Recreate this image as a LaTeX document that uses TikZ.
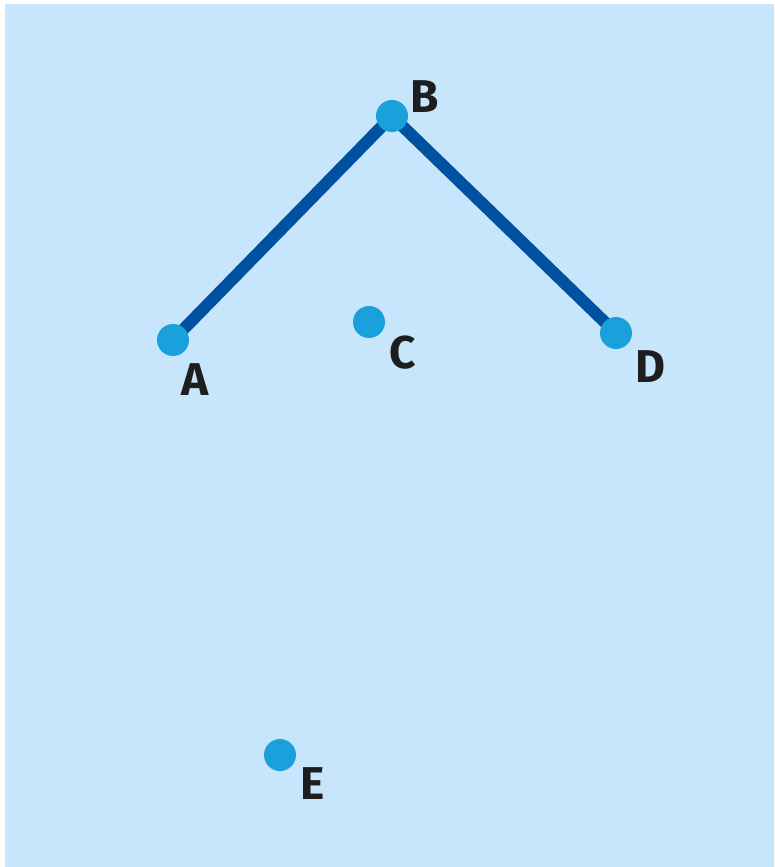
\documentclass[tikz,border=0pt]{standalone}
\usepackage{fontspec}
\setmainfont{Fira Sans}
\definecolor{bgblue}{HTML}{C8E6FB}
\definecolor{linkblue}{HTML}{0052A0}
\definecolor{dotblue}{HTML}{1AA0DA}
\definecolor{labelink}{HTML}{1E1E1E}
\tikzset{
  dot/.style={circle, fill=dotblue, draw=none, minimum size=32pt, inner sep=0pt},
  link/.style={draw=linkblue, line width=12pt},
  lbl/.style={text=labelink, font=\fontsize{46}{46}\selectfont\bfseries, inner sep=0pt, anchor=center}
}
\begin{document}
\begin{tikzpicture}[x=1pt,y=-1pt]
\useasboundingbox (0,0) rectangle (774,867);
\fill[white] (0,0) rectangle (774,867);
\fill[bgblue] (5,4) rectangle (774,867);
\coordinate (pA) at (173,340);
\coordinate (pB) at (392,116);
\coordinate (pC) at (369,322);
\coordinate (pD) at (616,333);
\coordinate (pE) at (280,755);
\draw[link] (pA) -- (pB) -- (pD);
\node[dot] (A) at (pA) {};
\node[dot] (B) at (pB) {};
\node[dot] (C) at (pC) {};
\node[dot] (D) at (pD) {};
\node[dot] (E) at (pE) {};
\node[lbl] (lA) at (195,380) {A};
\node[lbl] (lB) at (425,97) {B};
\node[lbl] (lC) at (403,353) {C};
\node[lbl] (lD) at (650,367) {D};
\node[lbl] (lE) at (313,784) {E};
\end{tikzpicture}
\end{document}
